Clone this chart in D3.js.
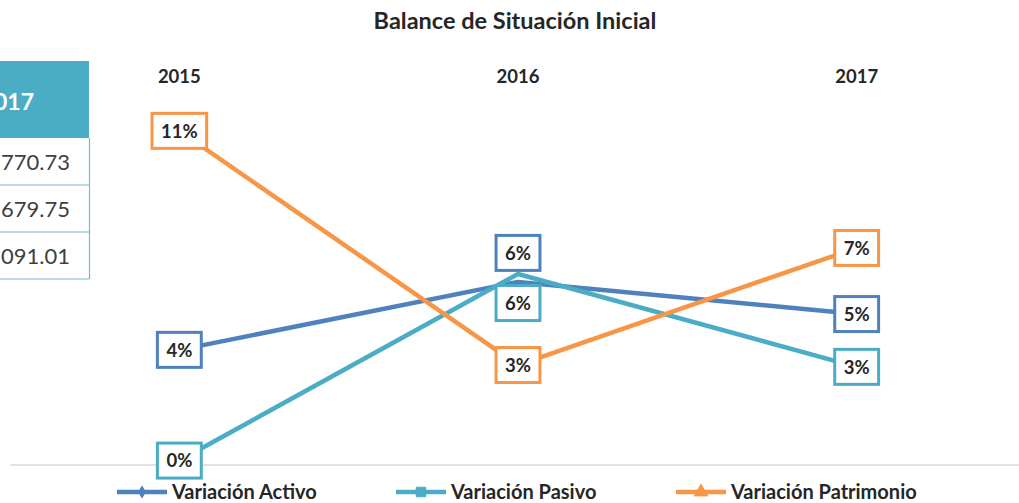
<!DOCTYPE html>
<html>
<head>
<meta charset="utf-8">
<script src="https://cdn.jsdelivr.net/npm/d3@7"></script>
<style>
  html, body { margin: 0; padding: 0; background: #fff; }
  svg { display: block; }
  text { font-family: Lato, "Open Sans", sans-serif; }
</style>
</head>
<body>
<svg id="chart" width="1019" height="503"></svg>
<script>
// ---- data ----
const title = "Balance de Situación Inicial";
const categories = ["2015", "2016", "2017"];
const seriesNames = ["Variación Activo", "Variación Pasivo", "Variación Patrimonio"];
const activo = [0.0373, 0.0597, 0.0491];
const pasivo = [0.0008, 0.0623, 0.0317];
const patrimonio = [0.1095, 0.0323, 0.0709];
const tableHeader = ["017"];
const tableRows = ["770.73", "679.75", "091.01"];

const colors = ["#4F81BD", "#4BACC6", "#F79646"];
const seriesValues = [activo, pasivo, patrimonio];
// label placement: 0 = centred on point, -1 = above, 1 = below
const labelPos = [[0, -1, 0], [0, 1, 0], [0, 0, 0]];

const svg = d3.select("#chart");

// ---- partial table on the left ----
const tbl = svg.append("g");
tbl.append("rect").attr("x", -2).attr("y", 61).attr("width", 91).attr("height", 77).attr("fill", "#4BACC6");
tbl.append("text").attr("x", 34).attr("y", 110).attr("text-anchor", "end")
  .attr("font-size", 23).attr("font-weight", "bold").attr("fill", "#fff").text(tableHeader[0]);
tableRows.forEach((r, i) => {
  const y0 = 138 + i * 47;
  tbl.append("text").attr("x", 70).attr("y", y0 + 32).attr("text-anchor", "end")
    .attr("font-size", 22).attr("fill", "#404040").text(r);
  tbl.append("line").attr("x1", 0).attr("x2", 89).attr("y1", y0 + 47).attr("y2", y0 + 47)
    .attr("stroke", "#6FBDD1").attr("stroke-width", 1.2);
});
tbl.append("line").attr("x1", 89.5).attr("x2", 89.5).attr("y1", 138).attr("y2", 279)
  .attr("stroke", "#6FBDD1").attr("stroke-width", 1.2);

// ---- title ----
svg.append("text").attr("x", 515).attr("y", 29).attr("text-anchor", "middle")
  .attr("font-size", 23.5).attr("font-weight", "bold").attr("fill", "#262626").text(title);

// ---- scales ----
const x = d3.scaleBand().domain(categories).range([10, 1026]);
const y = d3.scaleLinear().domain([0, 0.12]).range([463, 99]);
const cx = c => x(c) + x.bandwidth() / 2;

// axis line (bottom) and category labels (top)
svg.append("line").attr("x1", 10).attr("x2", 1019).attr("y1", 465).attr("y2", 465)
  .attr("stroke", "#D9D9D9").attr("stroke-width", 1.5);
const xAxis = svg.append("g").attr("transform", "translate(0,83)")
  .call(d3.axisTop(x).tickSize(0).tickPadding(0));
xAxis.select(".domain").remove();
xAxis.selectAll("text").attr("font-family", "Lato, sans-serif").attr("font-size", 18.5)
  .attr("font-weight", "bold").attr("fill", "#262626").attr("dy", "0");

// ---- lines ----
const line = d3.line().x((d, i) => cx(categories[i])).y(d => y(d));
seriesValues.forEach((vals, s) => {
  svg.append("path").datum(vals).attr("d", line).attr("fill", "none")
    .attr("stroke", colors[s]).attr("stroke-width", 4.5).attr("stroke-linejoin", "round");
});

// ---- data labels ----
seriesValues.forEach((vals, s) => {
  vals.forEach((v, i) => {
    const off = labelPos[s][i] * 29;
    const g = svg.append("g").attr("transform", `translate(${cx(categories[i])},${y(v) + off})`);
    const rect = g.append("rect");
    const t = g.append("text").attr("text-anchor", "middle").attr("dy", "0.36em")
      .attr("font-size", 18.5).attr("font-weight", "bold").attr("fill", "#262626")
      .text(d3.format(".0%")(v));
    const bb = t.node().getBBox();
    const w = bb.width + 18, h = 35;
    rect.attr("x", -w / 2).attr("y", -h / 2).attr("width", w).attr("height", h)
      .attr("fill", "#fff").attr("stroke", colors[s]).attr("stroke-width", 3);
  });
});

// ---- legend ----
const legendX = [117, 396, 676];
const markers = [d3.symbolDiamond, d3.symbolSquare, d3.symbolTriangle];
const markerSize = [40, 90, 80];
seriesNames.forEach((name, s) => {
  const g = svg.append("g").attr("transform", `translate(${legendX[s]},492)`);
  g.append("line").attr("x1", 0).attr("x2", 50).attr("y1", 0).attr("y2", 0)
    .attr("stroke", colors[s]).attr("stroke-width", 4.5);
  g.append("path").attr("transform", "translate(25,0)")
    .attr("d", d3.symbol().type(markers[s]).size(markerSize[s])())
    .attr("fill", colors[s]).attr("stroke", colors[s]);
  g.append("text").attr("x", 55).attr("y", 0).attr("dy", "0.36em")
    .attr("font-size", 20).attr("font-weight", "bold").attr("fill", "#262626").text(name);
});
</script>
</body>
</html>
